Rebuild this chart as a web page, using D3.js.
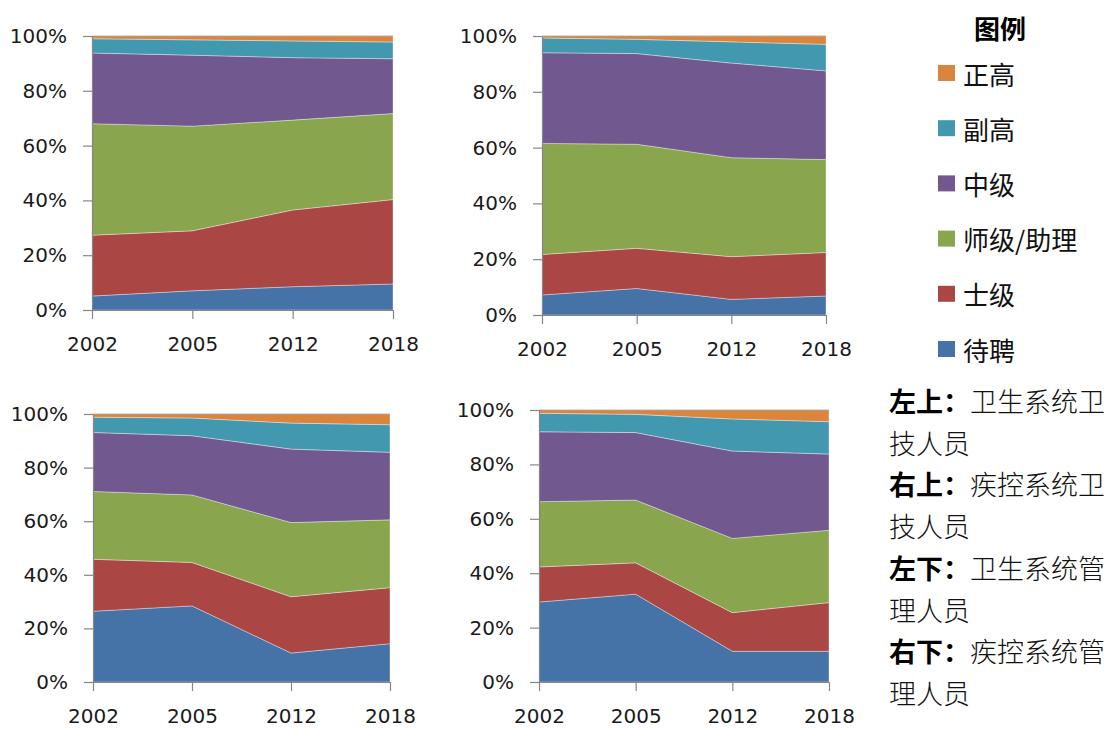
<!DOCTYPE html>
<html>
<head>
<meta charset="utf-8">
<script src="https://cdn.jsdelivr.net/npm/d3@7"></script>
<style>
  html, body { margin: 0; padding: 0; background: #fff; }
  svg { display: block; }
</style>
</head>
<body>
<svg id="chart" width="1115" height="729"></svg>
<script>
// Categories and stacking order (bottom to top)
const years = ["2002", "2005", "2012", "2018"];
const levels = ["待聘", "士级", "师级/助理", "中级", "副高", "正高"];
const levelColors = ["#4572A7", "#AA4643", "#89A54E", "#71588F", "#4198AF", "#DB843D"];
const yTicks = [0, 20, 40, 60, 80, 100];

// Share (%) of each level per year; one row per level, one column per year
const healthTech = [
  [5.1, 7.0, 8.5, 9.5],
  [22.2, 21.9, 28.0, 30.8],
  [40.7, 38.2, 32.8, 31.4],
  [25.8, 25.9, 22.8, 20.0],
  [5.2, 5.6, 6.1, 6.1],
  [1.0, 1.4, 1.8, 2.2]
];
const cdcTech = [
  [7.2, 9.5, 5.6, 6.8],
  [14.5, 14.4, 15.3, 15.6],
  [39.8, 37.3, 35.5, 33.3],
  [32.5, 32.5, 33.9, 31.8],
  [5.3, 5.1, 7.6, 9.5],
  [0.7, 1.2, 2.1, 3.0]
];
const healthAdmin = [
  [26.4, 28.4, 10.8, 14.3],
  [19.4, 16.2, 21.0, 20.9],
  [25.3, 25.2, 27.7, 25.3],
  [22.0, 22.1, 27.4, 25.2],
  [5.7, 6.6, 9.7, 10.3],
  [1.2, 1.5, 3.4, 4.0]
];
const cdcAdmin = [
  [29.4, 32.3, 11.3, 11.3],
  [12.9, 11.5, 14.2, 17.9],
  [24.0, 23.1, 27.3, 26.6],
  [25.7, 24.8, 32.1, 28.0],
  [6.8, 6.7, 11.8, 11.9],
  [1.2, 1.6, 3.3, 4.3]
];

// Side notes: bold prefix + regular text per line
const notes = [
  ["左上：", "卫生系统卫"],
  ["", "技人员"],
  ["右上：", "疾控系统卫"],
  ["", "技人员"],
  ["左下：", "卫生系统管"],
  ["", "理人员"],
  ["右下：", "疾控系统管"],
  ["", "理人员"]
];

const svg = d3.select("#chart");
const axisColor = "#868686";
const tickFont = "'DejaVu Sans', Verdana, sans-serif";
const cjkFont = "'Noto Sans CJK SC', 'Noto Sans', sans-serif";

// Plot frames for the four small multiples
const panels = [
  { data: healthTech,  left: 92,  right: 393, top: 36,  bottom: 310 },
  { data: cdcTech,     left: 542, right: 826, top: 36,  bottom: 315 },
  { data: healthAdmin, left: 93,  right: 390, top: 414, bottom: 682 },
  { data: cdcAdmin,    left: 539, right: 829, top: 410, bottom: 682 }
];

const stack = d3.stack().keys(levels);

panels.forEach(p => {
  const rows = years.map((yr, i) => {
    const r = { year: yr };
    levels.forEach((lv, j) => { r[lv] = p.data[j][i]; });
    return r;
  });
  const series = stack(rows);

  const x = d3.scalePoint().domain(years).range([p.left, p.right]);
  const y = d3.scaleLinear().domain([0, 100]).range([p.bottom, p.top]);

  const area = d3.area()
    .x(d => x(d.data.year))
    .y0(d => y(d[0]))
    .y1(d => y(d[1]));

  const g = svg.append("g");

  g.selectAll("path.layer")
    .data(series)
    .join("path")
    .attr("class", "layer")
    .attr("d", area)
    .attr("fill", (d, i) => levelColors[i])
    .attr("stroke", "rgba(255,255,255,0.45)")
    .attr("stroke-width", 0.8);

  // thin rule along the 100% top edge
  g.append("line")
    .attr("x1", p.left).attr("x2", p.right)
    .attr("y1", y(100)).attr("y2", y(100))
    .attr("stroke", axisColor).attr("stroke-opacity", 0.6).attr("stroke-width", 1);

  const yAxis = d3.axisLeft(y)
    .tickValues(yTicks)
    .tickFormat(d => d + "%")
    .tickSize(9)
    .tickSizeOuter(0)
    .tickPadding(16);

  const xAxis = d3.axisBottom(x)
    .tickSize(9)
    .tickSizeOuter(0)
    .tickPadding(18);

  const ya = g.append("g")
    .attr("transform", `translate(${p.left},0)`)
    .call(yAxis);
  const xa = g.append("g")
    .attr("transform", `translate(0,${p.bottom})`)
    .call(xAxis);

  [ya, xa].forEach(a => {
    a.select(".domain").attr("stroke", axisColor).attr("stroke-width", 1.2);
    a.selectAll(".tick line").attr("stroke", axisColor).attr("stroke-width", 1.2);
    a.selectAll(".tick text")
      .attr("fill", "#1a1a1a")
      .style("font-family", tickFont)
      .style("font-size", "20px");
  });
});

// Legend
const legend = svg.append("g");
legend.append("text")
  .attr("x", 1000).attr("y", 27)
  .attr("text-anchor", "middle")
  .attr("dominant-baseline", "central")
  .style("font-family", cjkFont)
  .style("font-size", "26px")
  .style("font-weight", "bold")
  .attr("fill", "#000")
  .text("图例");

const legendOrder = levels.map((lv, i) => ({ name: lv, color: levelColors[i] })).reverse();
const legendY = d3.scalePoint().domain(legendOrder.map(d => d.name)).range([73, 349]);

const items = legend.selectAll("g.item")
  .data(legendOrder)
  .join("g")
  .attr("class", "item")
  .attr("transform", d => `translate(0,${legendY(d.name)})`);
items.append("rect")
  .attr("x", 938).attr("y", -8)
  .attr("width", 17).attr("height", 16)
  .attr("fill", d => d.color);
items.append("text")
  .attr("x", 963).attr("y", 0)
  .attr("dominant-baseline", "central")
  .style("font-family", cjkFont)
  .style("font-size", "26px")
  .attr("fill", "#111")
  .text(d => d.name);

// Notes under the legend
const noteY = d3.scalePoint().domain(d3.range(notes.length)).range([400, 692]);
const noteText = svg.append("g").selectAll("text")
  .data(notes)
  .join("text")
  .attr("x", 889)
  .attr("y", (d, i) => noteY(i))
  .attr("dominant-baseline", "central")
  .style("font-family", cjkFont)
  .style("font-size", "27px")
  .attr("fill", "#111");
noteText.append("tspan")
  .style("font-weight", "bold")
  .attr("fill", "#000")
  .text(d => d[0]);
noteText.append("tspan")
  .style("font-weight", "300")
  .text(d => d[1]);
</script>
</body>
</html>
